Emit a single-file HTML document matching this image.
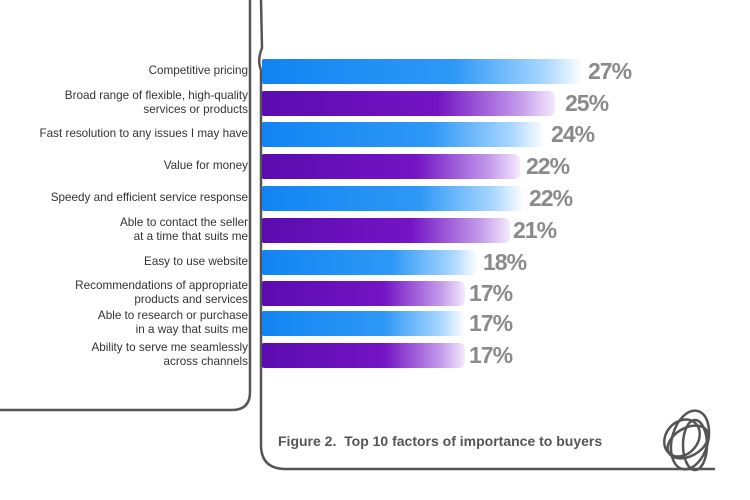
<!DOCTYPE html><html><head><style>
body{margin:0;width:750px;height:500px;background:#fff;position:relative;overflow:hidden;font-family:"Liberation Sans",sans-serif}
.l{position:absolute;right:502px;text-align:right;font-size:11.7px;color:#333;line-height:14px}
.b{position:absolute;left:262px;height:25px;border-radius:2px 6px 6px 2px}
.bl{background:linear-gradient(90deg,#1284f2 0%,#2e98f6 60%,#a8d6ff 88%,#fff 100%)}
.pu{background:linear-gradient(90deg,#5a0cb0 0%,#7414c4 60%,#c39aea 88%,#f4eafc 100%)}
.v{position:absolute;font-size:23px;font-weight:bold;color:#8a8a8a;letter-spacing:-1px}
</style></head><body>
<svg width="750" height="500" style="position:absolute;left:0;top:0">
<path d="M250 0 L250 392 Q250 410 232 410 L0 410" fill="none" stroke="#555" stroke-width="2.5"/>
<path d="M261 0 L262 48 Q257 60 261 70 L261 445 Q261 468 284 469 L715 469" fill="none" stroke="#555" stroke-width="2.5"/>
<g fill="none" stroke="#555" stroke-width="2.5">
<ellipse cx="690" cy="440" rx="18" ry="30" transform="rotate(15 690 440)"/>
<ellipse cx="688" cy="442" rx="22" ry="14" transform="rotate(-30 688 442)"/>
<ellipse cx="695" cy="445" rx="12" ry="25"/>
<ellipse cx="682" cy="438" rx="16" ry="20" transform="rotate(40 682 438)"/>
</g></svg>
<div class="l" style="top:64px">Competitive pricing</div>
<div class="l" style="top:89px">Broad range of flexible, high-quality<br>services or products</div>
<div class="l" style="top:127px">Fast resolution to any issues I may have</div>
<div class="l" style="top:159px">Value for money</div>
<div class="l" style="top:191px">Speedy and efficient service response</div>
<div class="l" style="top:216px">Able to contact the seller<br>at a time that suits me</div>
<div class="l" style="top:255px">Easy to use website</div>
<div class="l" style="top:279px">Recommendations of appropriate<br>products and services</div>
<div class="l" style="top:309px">Able to research or purchase<br>in a way that suits me</div>
<div class="l" style="top:341px">Ability to serve me seamlessly<br>across channels</div>
<div class="b bl" style="top:59px;width:321px"></div><div class="v" style="top:58px;left:588px">27%</div>
<div class="b pu" style="top:91px;width:293px"></div><div class="v" style="top:90px;left:565px">25%</div>
<div class="b bl" style="top:122px;width:283px"></div><div class="v" style="top:121px;left:551px">24%</div>
<div class="b pu" style="top:154px;width:258px"></div><div class="v" style="top:153px;left:526px">22%</div>
<div class="b bl" style="top:186px;width:262px"></div><div class="v" style="top:185px;left:529px">22%</div>
<div class="b pu" style="top:218px;width:248px"></div><div class="v" style="top:217px;left:513px">21%</div>
<div class="b bl" style="top:250px;width:216px"></div><div class="v" style="top:249px;left:483px">18%</div>
<div class="b pu" style="top:281px;width:203px"></div><div class="v" style="top:280px;left:469px">17%</div>
<div class="b bl" style="top:311px;width:203px"></div><div class="v" style="top:310px;left:469px">17%</div>
<div class="b pu" style="top:343px;width:203px"></div><div class="v" style="top:342px;left:469px">17%</div>
<div style="position:absolute;left:278px;top:433px;font-size:14px;font-weight:bold;color:#555">Figure 2.&nbsp; Top 10 factors of importance to buyers</div>
</body></html>
